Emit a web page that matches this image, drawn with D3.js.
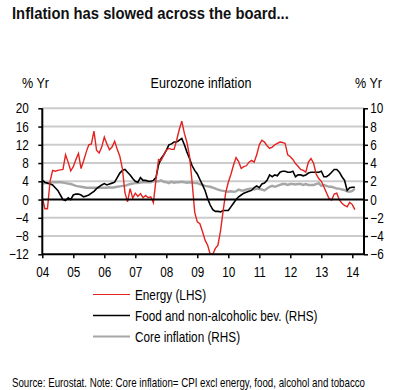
<!DOCTYPE html>
<html>
<head>
<meta charset="utf-8">
<script src="https://cdn.jsdelivr.net/npm/d3@7"></script>
<style>
  body { margin: 0; background: #fff; }
  text { font-family: 'Liberation Sans', Arial, sans-serif; }
</style>
</head>
<body>
<div id="chart"></div>
<script>
// monthly values, Jan 2004 - Feb 2014
var energy = [
  0.4, -2.0, -2.0, 4.0, 6.4, 6.2, 6.4, 6.5, 6.6, 9.8, 8.2, 6.3,
  7.2, 8.8, 10.1, 6.8, 8.5, 10.4, 12.0, 12.2, 15.0, 10.8, 10.2, 11.5,
  13.7, 12.2, 10.9, 11.5, 12.8, 11.0, 9.5, 6.8, 1.5, -0.5, 2.4, 0.3,
  1.4, 0.7, 1.3, 0.4, 0.9, 0.4, 0.6, -0.7, 4.3, 8.8, 8.6, 9.7,
  10.8, 11.2, 11.0, 11.0, 13.0, 15.3, 17.2, 14.5, 12.5, 9.5, 3.8, -2.8,
  -4.9, -5.3, -7.0, -8.9, -10.0, -12.0, -12.0, -10.7, -10.0, -6.8, -2.5, 1.5,
  3.8, 5.5, 7.5, 9.2, 8.3, 6.8, 7.2, 7.4, 8.2, 8.6, 8.2, 9.8,
  12.0, 13.0, 12.6, 11.8, 11.2, 11.5, 12.0, 12.3, 12.6, 12.5, 12.3, 9.8,
  9.4, 8.8, 7.9, 7.3, 6.6, 6.4, 6.0, 8.2, 9.0, 8.0, 5.6, 4.6,
  4.0, 2.8, 1.5, 0.2, -0.1, 1.2, 1.4, -0.1, -0.8, -1.3, -1.6, -0.6,
  -1.1, -2.2
];
var food = [
  2.1, 1.9, 1.8, 1.7, 1.6, 1.3, 1.0, 0.5, 0.0, -0.1, 0.2, 0.0,
  0.5, 0.6, 0.6, 0.5, 0.3, 0.4, 0.5, 0.7, 0.9, 1.2, 1.4, 1.6,
  1.75, 1.6, 1.7, 1.8, 1.9, 2.4, 2.9, 3.2, 3.3, 3.0, 2.7, 2.3,
  2.0, 1.9, 2.4, 2.1, 2.1, 2.0, 2.0, 2.1, 2.4, 3.8, 4.5, 4.9,
  5.4, 6.0, 6.1, 6.3, 6.3, 6.5, 6.7, 6.0, 5.2, 4.5, 3.7, 3.2,
  2.8, 2.2, 1.6, 1.0, 0.1, -0.6, -1.1, -1.3, -1.3, -1.35, -1.2, -1.2,
  -1.2, -0.8, -0.4, 0.0, 0.3, 0.5, 0.7, 0.8, 0.9, 1.0, 1.3, 1.5,
  1.3, 1.7, 1.8, 2.1, 2.7, 2.5, 2.7, 2.6, 3.0, 3.1, 3.1, 3.0,
  3.0, 3.1, 2.5, 2.7, 2.7, 2.6, 2.7, 2.9, 3.0, 3.0, 3.0, 3.0,
  3.1, 2.5, 2.5, 2.7, 3.0, 3.3, 3.3, 3.0, 2.5, 2.1, 1.0, 1.3,
  1.35, 1.35
];
var core = [
  1.75, 1.8, 1.8, 1.85, 1.9, 1.9, 1.9, 1.9, 1.85, 1.8, 1.75, 1.7,
  1.6, 1.5, 1.45, 1.4, 1.35, 1.3, 1.3, 1.3, 1.3, 1.3, 1.3, 1.3,
  1.3, 1.3, 1.35, 1.3, 1.35, 1.4, 1.45, 1.5, 1.5, 1.6, 1.7, 1.75,
  1.8, 1.8, 1.85, 1.9, 1.9, 1.9, 1.9, 2.0, 2.0, 2.0, 2.1, 1.95,
  1.9, 1.8, 1.95, 1.85, 1.9, 1.9, 1.95, 1.9, 1.85, 1.9, 1.85, 1.8,
  1.8, 1.7, 1.6, 1.5, 1.45, 1.4, 1.3, 1.2, 1.1, 1.0, 0.95, 0.9,
  0.85, 0.9, 0.85, 0.9, 1.1, 1.0, 1.0, 1.1, 1.15, 1.2, 1.1, 1.2,
  1.15, 1.1, 1.0, 1.2, 1.4, 1.5, 1.4, 1.5, 1.6, 1.7, 1.7, 1.6,
  1.7, 1.7, 1.65, 1.7, 1.7, 1.6, 1.7, 1.6, 1.6, 1.6, 1.7, 1.8,
  1.5, 1.6, 1.5, 1.4, 1.4, 1.3, 1.2, 1.2, 1.1, 1.05, 0.9, 0.85,
  0.95, 1.2
];
var yearTicks = [2004, 2005, 2006, 2007, 2008, 2009, 2010, 2011, 2012, 2013, 2014];
var leftTicks = [-12, -8, -4, 0, 4, 8, 12, 16, 20];
var rightTicks = [-6, -4, -2, 0, 2, 4, 6, 8, 10];
var seriesNames = ['Energy (LHS)', 'Food and non-alcoholic bev. (RHS)', 'Core inflation (RHS)'];
var seriesColors = ['#e3231f', '#000000', '#a6a6a6'];

const W = 398, H = 390;
const pL = 42.3, pR = 364, pT = 108.3, pB = 254.3;
const SX = 0.84; // the original type is a narrow face

const svg = d3.select('#chart').append('svg')
  .attr('width', W).attr('height', H);

const x = d3.scaleLinear().domain([2004, 2014 + (pR - pL) / 31 - 10]).range([pL, pR]);
const yL = d3.scaleLinear().domain([-12, 20]).range([pB, pT]);
const yR = d3.scaleLinear().domain([-6, 10]).range([pB, pT]);

// narrow text helper
var label = function(txt, px, py, size, anchor, sx) {
  return svg.append('text')
    .attr('transform', `translate(${px},${py}) scale(${sx || SX},1)`)
    .attr('font-size', size)
    .attr('text-anchor', anchor || 'start')
    .attr('fill', '#000')
    .text(txt);
};

label('Inflation has slowed across the board...', 12, 19, 17, 'start', 0.87)
  .attr('font-weight', 'bold').attr('fill', '#111');
label('% Yr', 22, 88, 15);
label('% Yr', 382, 88, 15, 'end');
label('Eurozone inflation', 201, 88, 15, 'middle');

// grid
svg.append('g').selectAll('line').data(leftTicks.filter(d => d !== 0 && d !== -12)).enter()
  .append('line')
  .attr('x1', pL).attr('x2', pR)
  .attr('y1', d => yL(d)).attr('y2', d => yL(d))
  .attr('stroke', '#cccccc').attr('stroke-width', 2);

// series
const t = i => 2004 + i / 12;
const lineL = d3.line().x((d, i) => x(t(i))).y(d => yL(d));
const lineR = d3.line().x((d, i) => x(t(i))).y(d => yR(d));

svg.append('defs').append('clipPath').attr('id', 'clip')
  .append('rect').attr('x', pL).attr('y', pT - 2).attr('width', pR - pL).attr('height', pB - pT + 2);

const plot = svg.append('g').attr('clip-path', 'url(#clip)');
plot.append('path').datum(core).attr('d', lineR)
  .attr('fill', 'none').attr('stroke', seriesColors[2]).attr('stroke-width', 2.4);
plot.append('path').datum(food).attr('d', lineR)
  .attr('fill', 'none').attr('stroke', seriesColors[1]).attr('stroke-width', 1.6);
plot.append('path').datum(energy).attr('d', lineL)
  .attr('fill', 'none').attr('stroke', seriesColors[0]).attr('stroke-width', 1.4);

// zero line
svg.append('line').attr('x1', pL).attr('x2', pR)
  .attr('y1', yL(0)).attr('y2', yL(0))
  .attr('stroke', '#000').attr('stroke-width', 2);

// axes
const axL = svg.append('g').attr('transform', `translate(${pL},0)`)
  .call(d3.axisLeft(yL).tickValues(leftTicks).tickSize(4).tickPadding(12));
const axR = svg.append('g').attr('transform', `translate(${pR},0)`)
  .call(d3.axisRight(yR).tickValues(rightTicks).tickSize(4).tickPadding(3.5));
const axB = svg.append('g').attr('transform', `translate(0,${pB})`)
  .call(d3.axisBottom(x).tickValues(yearTicks).tickSize(4).tickPadding(9)
    .tickFormat(d => String(d).slice(2)));

[axL, axR, axB].forEach(function(ax) {
  ax.select('.domain').attr('stroke', '#000').attr('stroke-width', 2);
  ax.selectAll('.tick line').attr('stroke', '#000').attr('stroke-width', 1.5);
  ax.selectAll('.tick text').attr('font-size', 14).attr('fill', '#000')
    .attr('font-family', "'Liberation Sans', Arial, sans-serif")
    .attr('transform', `scale(${SX},1)`);
});
axB.select('.domain').attr('d', `M${pL},0H${pR}`);
axL.select('.domain').attr('d', `M0,${pT}V${pB}`);
axR.select('.domain').attr('d', `M0,${pT}V${pB}`);

// legend
const leg = svg.append('g').selectAll('g').data(seriesNames).enter().append('g')
  .attr('transform', (d, i) => `translate(93,${294.5 + i * 21})`);
leg.append('line').attr('x1', 0).attr('x2', 37)
  .attr('stroke', (d, i) => seriesColors[i])
  .attr('stroke-width', (d, i) => [1.2, 1.6, 2.2][i]);
leg.append('text').attr('transform', `translate(42,5) scale(${SX},1)`)
  .attr('font-size', 14).text(d => d);

// source
label('Source: Eurostat.  Note: Core inflation= CPI excl energy, food, alcohol and tobacco', 12, 387, 12, 'start', 0.81);
</script>
</body>
</html>
